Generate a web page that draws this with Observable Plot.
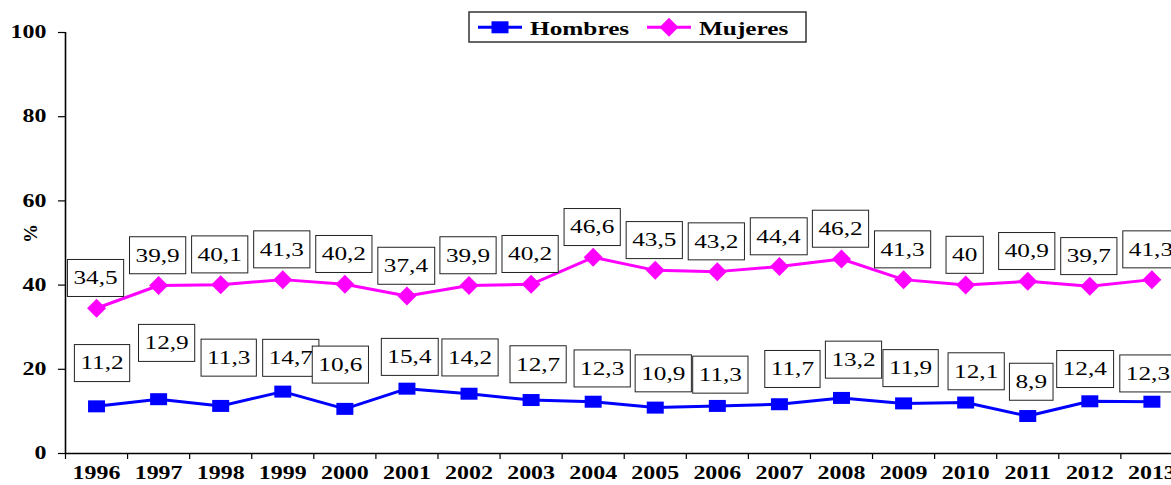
<!DOCTYPE html>
<html><head><meta charset="utf-8">
<script src="https://cdn.jsdelivr.net/npm/d3@7"></script>
<script src="https://cdn.jsdelivr.net/npm/@observablehq/plot@0.6"></script>
<style>
body{margin:0;background:#fff;}
#wrap{position:relative;width:1171px;height:485px;overflow:hidden;background:#fff;}
#legend{position:absolute;left:468px;top:11px;}
</style></head><body><div id="wrap"></div>
<script>
// ---- data ----
const years = [1996,1997,1998,1999,2000,2001,2002,2003,2004,2005,2006,2007,2008,2009,2010,2011,2012,2013];
const hombres = [11.2,12.9,11.3,14.7,10.6,15.4,14.2,12.7,12.3,10.9,11.3,11.7,13.2,11.9,12.1,8.9,12.4,12.3];
const mujeres = [34.5,39.9,40.1,41.3,40.2,37.4,39.9,40.2,46.6,43.5,43.2,44.4,46.2,41.3,40,40.9,39.7,41.3];
const yTicks = [0,20,40,60,80,100];
const seriesNames = ["Hombres","Mujeres"];
const yLabel = "%";

// ---- layout / style ----
const colors = ["#0000FF","#FF00FF"];
const LABEL_INK = "#010101";
const hombresDx = [5.5,8,8,8,-4.5,2.5,1,7,9,8,3,13,12,7,10.5,3.5,-5,-4];
const hombresDy = [-43,-56,-48,-33.5,-44,-31.5,-36,-35.5,-33,-34,-31,-35,-38,-35,-31,-34,-32,-28];
const FONT = "'Liberation Serif','Times New Roman',serif";
const STRETCH = 1.33;

const rectSymbol = {draw(ctx){ctx.moveTo(-8.5,-6);ctx.lineTo(8.5,-6);ctx.lineTo(8.5,6);ctx.lineTo(-8.5,6);ctx.closePath();}};
const diamondSymbol = {draw(ctx){ctx.moveTo(0,-9.5);ctx.lineTo(9.5,0);ctx.lineTo(0,9.5);ctx.lineTo(-9.5,0);ctx.closePath();}};

const data = years.map((year,i)=>({year, hombres: hombres[i], mujeres: mujeres[i]}));
const fmt = v => String(v).replace(".", ",");
const boundaries = years.map(y=>y-0.5).concat([years[years.length-1]+0.5]);

const labelOpts = {fontSize: 19, fontWeight: "normal", fill: LABEL_INK};

const chart = Plot.plot({
  width: 1171, height: 485,
  marginTop: 32, marginBottom: 32, marginLeft: 65, marginRight: 0,
  style: {fontFamily: FONT, fontSize: "18px", fontWeight: "bold", color: "black", background: "white"},
  x: {type: "linear", domain: [boundaries[0], boundaries[boundaries.length-1]], range: [65, 65 + 62.08*years.length]},
  y: {domain: [0, 100]},
  marks: [
    Plot.axisY({ticks: yTicks, tickSize: 7, tickPadding: 12, tickFormat: d => String(d), label: null, strokeWidth: 1.2}),
    Plot.axisX({ticks: years, tickSize: 0, tickPadding: 13, tickFormat: d => String(d), label: null}),
    Plot.axisX({ticks: boundaries, tickSize: 6, tickFormat: () => "", label: null, strokeWidth: 1.2}),
    Plot.ruleY([0], {stroke: "black", strokeWidth: 1.6}),
    Plot.ruleX([boundaries[0]], {stroke: "black", strokeWidth: 1.6}),
    Plot.text([yLabel], {text: d => d, frameAnchor: "left", dx: -35, rotate: -90, fontSize: 19, fontWeight: "bold"}),
    Plot.line(data, {x: "year", y: "hombres", stroke: colors[0], strokeWidth: 3}),
    Plot.dot(data, {x: "year", y: "hombres", fill: colors[0], stroke: "none", symbol: rectSymbol}),
    Plot.line(data, {x: "year", y: "mujeres", stroke: colors[1], strokeWidth: 3}),
    Plot.dot(data, {x: "year", y: "mujeres", fill: colors[1], stroke: "none", symbol: diamondSymbol}),
    Plot.text(data, {x: "year", y: "mujeres", text: d => fmt(d.mujeres), dx: -1, dy: -30, ...labelOpts}),
    ...data.map((d,i) => Plot.text([d], {x: "year", y: "hombres", text: r => fmt(r.hombres), dx: hombresDx[i], dy: hombresDy[i], ...labelOpts}))
  ]
});

const wrap = document.getElementById("wrap");
wrap.appendChild(chart);
const NS = "http://www.w3.org/2000/svg";

function stretchText(root){
  root.querySelectorAll("text").forEach(t => {
    if (!t.textContent || (t.getAttribute("transform") || "").includes("rotate")) return;
    const w = t.getComputedTextLength();
    if (w > 0) { t.setAttribute("textLength", (w*STRETCH).toFixed(2)); t.setAttribute("lengthAdjust", "spacingAndGlyphs"); }
  });
}
stretchText(chart);

const labelTexts = Array.from(chart.querySelectorAll("text")).filter(t => {
  let n = t;
  while (n && n !== chart) {
    const f = n.getAttribute && n.getAttribute("fill");
    if (f) return f.toLowerCase() === LABEL_INK;
    n = n.parentNode;
  }
  return false;
});
labelTexts.forEach(t => {
  const b = t.getBBox();
  const fs = 19;
  const cy = b.y + b.height * (0.891 - 0.33) / (0.891 + 0.216);
  const r = document.createElementNS(NS, "rect");
  r.setAttribute("x", b.x - 6);
  r.setAttribute("width", b.width + 12);
  r.setAttribute("y", cy - 18.5);
  r.setAttribute("height", 37);
  r.setAttribute("fill", "white");
  r.setAttribute("stroke", "#222");
  r.setAttribute("stroke-width", 1);
  const tr = t.getAttribute("transform");
  if (tr) r.setAttribute("transform", tr);
  t.parentNode.insertBefore(r, t);
});

// ---- legend ----
const leg = d3.select(wrap).append("svg").attr("id", "legend").attr("width", 341).attr("height", 34)
  .style("font-family", FONT);
leg.append("rect").attr("x", 1).attr("y", 1).attr("width", 337).attr("height", 30)
  .attr("fill", "white").attr("stroke", "#333").attr("stroke-width", 1.5);
const itemX = [10, 179];
const syms = [rectSymbol, diamondSymbol];
seriesNames.forEach((name, i) => {
  const g = leg.append("g").attr("transform", `translate(${itemX[i]},16.3)`);
  g.append("line").attr("x1", 0).attr("x2", 44).attr("stroke", colors[i]).attr("stroke-width", 3);
  const p = d3.path(); syms[i].draw(p);
  g.append("path").attr("d", p.toString()).attr("transform", "translate(22,0)").attr("fill", colors[i]);
  g.append("text").attr("x", 52).attr("y", 7.7).attr("font-size", 19).attr("font-weight", "bold").text(name);
});
stretchText(leg.node());
</script></body></html>
